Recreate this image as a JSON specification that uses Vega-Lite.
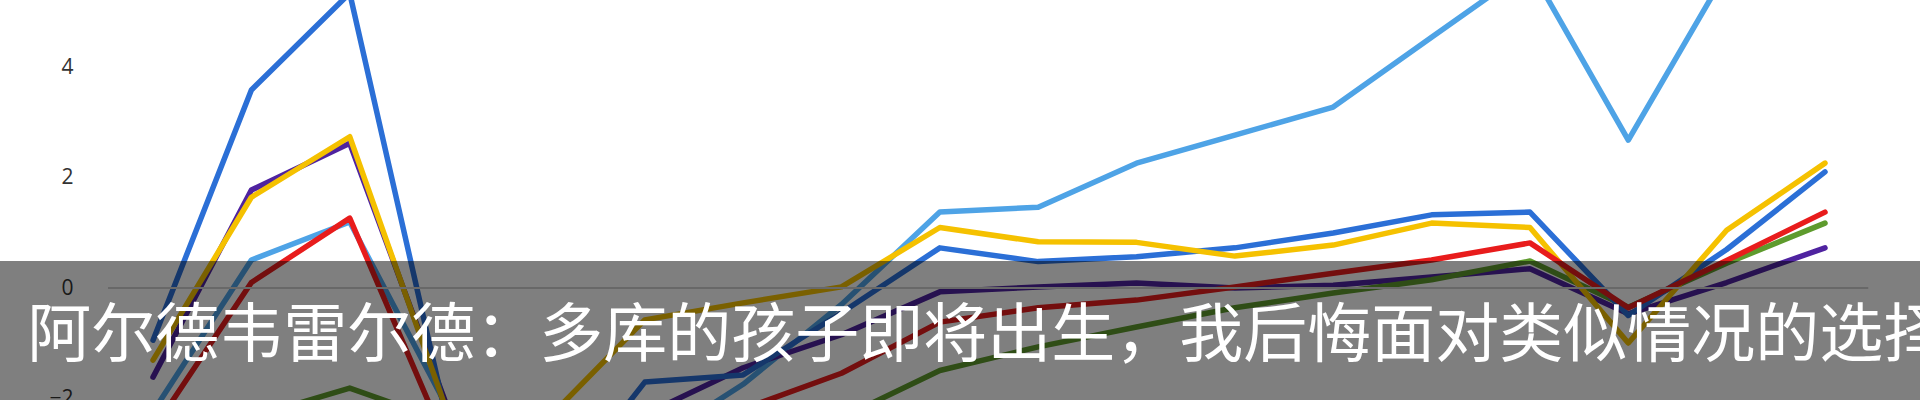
{
  "$schema": "https://vega.github.io/schema/vega-lite/v6.json",
  "width": 1920,
  "height": 400,
  "autosize": {"type": "none"},
  "padding": 0,
  "background": "#ffffff",
  "config": {"view": {"stroke": null}},
  "datasets": {
    "series": [
      {"s": "s1", "t": 0, "v": -2.25}, {"s": "s1", "t": 1, "v": 0.51}, {"s": "s1", "t": 2, "v": 1.2}, {"s": "s1", "t": 3, "v": -2.2}, {"s": "s1", "t": 4, "v": -3.2}, {"s": "s1", "t": 5, "v": -2.9}, {"s": "s1", "t": 6, "v": -1.75}, {"s": "s1", "t": 7, "v": -0.3}, {"s": "s1", "t": 8, "v": 1.38}, {"s": "s1", "t": 9, "v": 1.47}, {"s": "s1", "t": 10, "v": 2.27}, {"s": "s1", "t": 11, "v": 2.78}, {"s": "s1", "t": 12, "v": 3.29}, {"s": "s1", "t": 13, "v": 4.56}, {"s": "s1", "t": 14, "v": 5.82}, {"s": "s1", "t": 15, "v": 2.69}, {"s": "s1", "t": 16, "v": 5.76}, {"s": "s1", "t": 17, "v": 6.3},
      {"s": "s2", "t": 0, "v": -1.62}, {"s": "s2", "t": 1, "v": 1.78}, {"s": "s2", "t": 2, "v": 2.63}, {"s": "s2", "t": 3, "v": -2.2}, {"s": "s2", "t": 4, "v": -2.6}, {"s": "s2", "t": 5, "v": -2.3}, {"s": "s2", "t": 6, "v": -1.45}, {"s": "s2", "t": 7, "v": -0.85}, {"s": "s2", "t": 8, "v": -0.07}, {"s": "s2", "t": 9, "v": 0.02}, {"s": "s2", "t": 10, "v": 0.09}, {"s": "s2", "t": 11, "v": 0.0}, {"s": "s2", "t": 12, "v": 0.05}, {"s": "s2", "t": 13, "v": 0.2}, {"s": "s2", "t": 14, "v": 0.35}, {"s": "s2", "t": 15, "v": -0.47}, {"s": "s2", "t": 16, "v": 0.1}, {"s": "s2", "t": 17, "v": 0.73},
      {"s": "s3", "t": 0, "v": -3.2}, {"s": "s3", "t": 1, "v": -2.35}, {"s": "s3", "t": 2, "v": -1.82}, {"s": "s3", "t": 3, "v": -2.45}, {"s": "s3", "t": 4, "v": -3.0}, {"s": "s3", "t": 5, "v": -2.9}, {"s": "s3", "t": 6, "v": -2.7}, {"s": "s3", "t": 7, "v": -2.36}, {"s": "s3", "t": 8, "v": -1.5}, {"s": "s3", "t": 9, "v": -1.07}, {"s": "s3", "t": 10, "v": -0.71}, {"s": "s3", "t": 11, "v": -0.36}, {"s": "s3", "t": 12, "v": -0.09}, {"s": "s3", "t": 13, "v": 0.15}, {"s": "s3", "t": 14, "v": 0.49}, {"s": "s3", "t": 15, "v": -0.35}, {"s": "s3", "t": 16, "v": 0.45}, {"s": "s3", "t": 17, "v": 1.18},
      {"s": "s4", "t": 0, "v": -0.95}, {"s": "s4", "t": 1, "v": 3.6}, {"s": "s4", "t": 2, "v": 5.36}, {"s": "s4", "t": 3, "v": -2.5}, {"s": "s4", "t": 4, "v": -4.0}, {"s": "s4", "t": 5, "v": -1.71}, {"s": "s4", "t": 6, "v": -1.58}, {"s": "s4", "t": 7, "v": -0.45}, {"s": "s4", "t": 8, "v": 0.73}, {"s": "s4", "t": 9, "v": 0.48}, {"s": "s4", "t": 10, "v": 0.57}, {"s": "s4", "t": 11, "v": 0.73}, {"s": "s4", "t": 12, "v": 1.0}, {"s": "s4", "t": 13, "v": 1.33}, {"s": "s4", "t": 14, "v": 1.38}, {"s": "s4", "t": 15, "v": -0.5}, {"s": "s4", "t": 16, "v": 0.7}, {"s": "s4", "t": 17, "v": 2.11},
      {"s": "s5", "t": 0, "v": -1.31}, {"s": "s5", "t": 1, "v": 1.65}, {"s": "s5", "t": 2, "v": 2.75}, {"s": "s5", "t": 3, "v": -2.3}, {"s": "s5", "t": 4, "v": -2.4}, {"s": "s5", "t": 5, "v": -0.58}, {"s": "s5", "t": 6, "v": -0.27}, {"s": "s5", "t": 7, "v": 0.02}, {"s": "s5", "t": 8, "v": 1.1}, {"s": "s5", "t": 9, "v": 0.84}, {"s": "s5", "t": 10, "v": 0.83}, {"s": "s5", "t": 11, "v": 0.58}, {"s": "s5", "t": 12, "v": 0.78}, {"s": "s5", "t": 13, "v": 1.18}, {"s": "s5", "t": 14, "v": 1.1}, {"s": "s5", "t": 15, "v": -1.0}, {"s": "s5", "t": 16, "v": 1.05}, {"s": "s5", "t": 17, "v": 2.27},
      {"s": "s6", "t": 0, "v": -2.58}, {"s": "s6", "t": 1, "v": 0.1}, {"s": "s6", "t": 2, "v": 1.27}, {"s": "s6", "t": 3, "v": -2.9}, {"s": "s6", "t": 4, "v": -2.8}, {"s": "s6", "t": 5, "v": -2.6}, {"s": "s6", "t": 6, "v": -2.2}, {"s": "s6", "t": 7, "v": -1.55}, {"s": "s6", "t": 8, "v": -0.62}, {"s": "s6", "t": 9, "v": -0.36}, {"s": "s6", "t": 10, "v": -0.22}, {"s": "s6", "t": 11, "v": 0.02}, {"s": "s6", "t": 12, "v": 0.27}, {"s": "s6", "t": 13, "v": 0.51}, {"s": "s6", "t": 14, "v": 0.82}, {"s": "s6", "t": 15, "v": -0.36}, {"s": "s6", "t": 16, "v": 0.5}, {"s": "s6", "t": 17, "v": 1.38}
    ],
    "caption": [{"text": "阿尔德韦雷尔德：多库的孩子即将出生，我后悔面对类似情况的选择"}]
  },
  "layer": [
    {
      "data": {"name": "series"},
      "mark": {"type": "line", "strokeWidth": 5.5, "strokeCap": "round", "strokeJoin": "round", "clip": true},
      "encoding": {
        "x": {"field": "t", "type": "quantitative", "scale": {"domain": [-1.556, 17.966], "nice": false, "zero": false}, "axis": null},
        "y": {"field": "v", "type": "quantitative", "scale": {"domain": [-2.036, 5.236], "nice": false, "zero": false},
              "axis": {"values": [-2, 0, 2, 4], "offset": -80, "domain": false, "ticks": false, "grid": false, "labelPadding": 7, "labelFontSize": 21, "labelFont": "Open Sans", "labelColor": "#333333", "title": null}},
        "color": {"field": "s", "type": "nominal", "legend": null,
                  "scale": {"domain": ["s1", "s2", "s3", "s4", "s5", "s6"], "range": ["#4ea3e6", "#4f23a0", "#5e9b2d", "#2b6fd6", "#f5c100", "#e81c1c"]}}
      }
    },
    {
      "data": {"values": [{}]},
      "mark": {"type": "rule", "color": "#d0d0d0", "strokeWidth": 2},
      "encoding": {
        "x": {"datum": -0.458, "type": "quantitative"},
        "x2": {"datum": 17.44},
        "y": {"datum": 0, "type": "quantitative"}
      }
    },
    {
      "data": {"values": [{}]},
      "mark": {"type": "rect", "color": "#000000", "opacity": 0.5, "clip": true},
      "encoding": {
        "x": {"datum": -2, "type": "quantitative"},
        "x2": {"datum": 19},
        "y": {"datum": 0.49, "type": "quantitative"},
        "y2": {"datum": -3}
      }
    },
    {
      "data": {"name": "caption"},
      "mark": {"type": "text", "font": "Noto Sans CJK SC", "fontSize": 64, "color": "#ffffff", "align": "left", "baseline": "alphabetic"},
      "encoding": {
        "x": {"datum": -1.28, "type": "quantitative"},
        "y": {"datum": -1.236, "type": "quantitative"},
        "text": {"field": "text"}
      }
    }
  ]
}
